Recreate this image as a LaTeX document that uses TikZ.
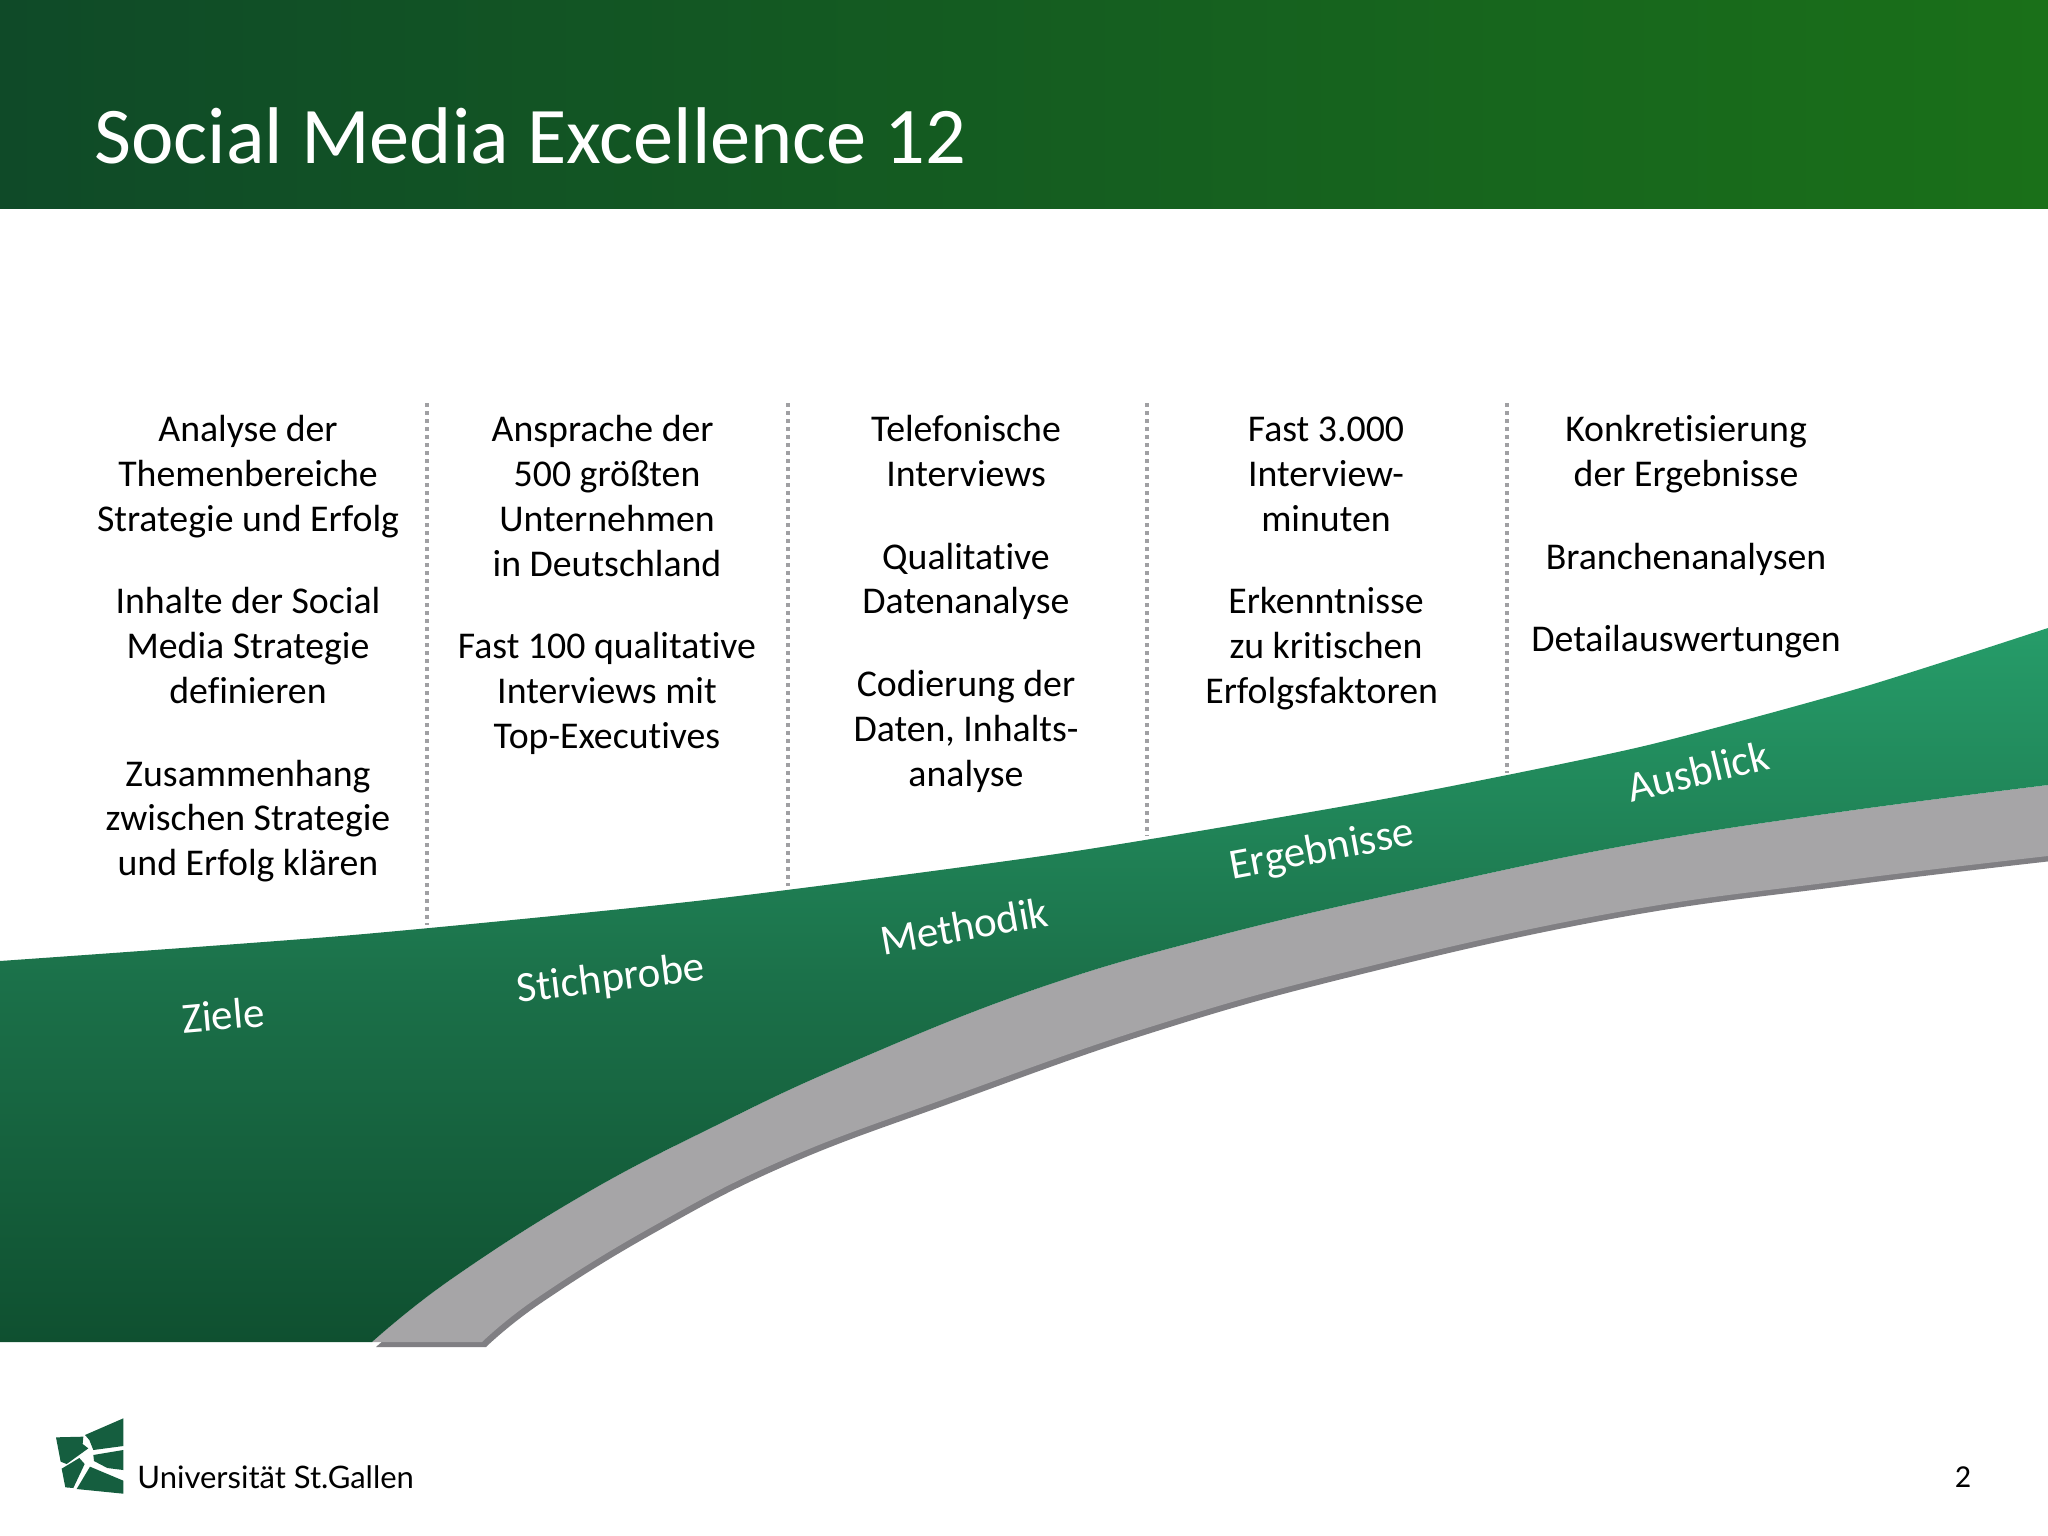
\documentclass[tikz,border=0pt]{standalone}
\usepackage{fontspec}
\setmainfont{Carlito}[Ligatures=CommonOff]
\newfontfamily\logofont{Lato}
\definecolor{hdark}{HTML}{0F4A28}
\definecolor{hlight}{HTML}{1A7019}
\definecolor{gtop}{HTML}{269C69}
\definecolor{gmid}{HTML}{1B7049}
\definecolor{gbot}{HTML}{0F5030}
\definecolor{greyband}{HTML}{A6A5A7}
\definecolor{greyedge}{HTML}{807F83}
\definecolor{sepgrey}{HTML}{A0A0A3}
\definecolor{logogreen}{HTML}{155E3F}
\tikzset{
  body/.style={font=\fontsize{18.9}{22.4}\selectfont,align=center,anchor=north,inner sep=0pt,text=black},
  band/.style={font=\fontsize{21.5}{25}\selectfont,text=white,inner sep=0pt},
  sep/.style={draw=sepgrey,line width=2pt,dash pattern=on 2pt off 2pt},
  logopart/.style={fill=logogreen},
}
\def\ts{\hspace*{0.23em}}
\def\greytop{(372,1342) (450,1280) (583,1195) (717,1125) (850,1063) (1033,990) (1217,936) (1440,884) (1640,843) (1840,812) (2048,785)}
\def\greybot{(2048,856) (1840,881) (1607,914) (1350,971) (1150,1027) (950,1097) (783,1160) (650,1228) (537,1298) (482,1342)}
\def\greentop{(0,961) (353,935) (705,900) (1063,853) (1384,799) (1640,747) (1860,688) (2048,628)}
\def\greenlow{(2048,785) (1840,812) (1640,843) (1440,884) (1217,936) (1033,990) (850,1063) (717,1125) (583,1195) (450,1280) (372,1342)}
\begin{document}
\begin{tikzpicture}[x=0.5pt,y=-0.5pt]
\useasboundingbox (0,0) rectangle (2048,1535);
\fill[white] (0,0) rectangle (2048,1535);
\shade[left color=hdark,right color=hlight] (0,0) rectangle (2048,209);
\node[anchor=base west,inner sep=0pt,text=white,font=\fontsize{40.2}{48}\selectfont] (title) at (94,164) {Social Media Excellence 12};
% dark edge of the band
\begin{scope}[shift={(4,5)}]
\fill[greyedge] plot[smooth,tension=0.7] coordinates {\greytop} -- plot[smooth,tension=0.7] coordinates {\greybot} -- cycle;
\end{scope}
% grey band
\fill[greyband] plot[smooth,tension=0.7] coordinates {\greytop} -- plot[smooth,tension=0.7] coordinates {\greybot} -- cycle;
% green body
\shade[top color=gtop,bottom color=gbot,middle color=gmid] plot[smooth,tension=0.4] coordinates {\greentop} -- plot[smooth,tension=0.7] coordinates {\greenlow} -- (0,1342) -- cycle;
% separators
\coordinate (s1t) at (427,403); \coordinate (s1b) at (427,925);
\coordinate (s2t) at (787.5,403); \coordinate (s2b) at (787.5,886);
\coordinate (s3t) at (1147,403); \coordinate (s3b) at (1147,836);
\coordinate (s4t) at (1507,403); \coordinate (s4b) at (1507,773);
\draw[sep] (s1t) -- (s1b);
\draw[sep] (s2t) -- (s2b);
\draw[sep] (s3t) -- (s3b);
\draw[sep] (s4t) -- (s4b);
% columns
\node[body] (c1) at (248,415) {Analyse der\\Themenbereiche\\Strategie und Erfolg\\[18.9pt]Inhalte der Social\\Media Strategie\\definieren\\[18.9pt]Zusammenhang\\zwischen Strategie\\und Erfolg klären};
\node[body] (c2) at (607,415) {Ansprache der\ts\\500 größten\\Unternehmen\ts\\in Deutschland\\[18.9pt]Fast 100 qualitative\\Interviews mit\ts\\Top-Executives};
\node[body] (c3) at (966,415) {Telefonische\\Interviews\\[18.9pt]Qualitative\\Datenanalyse\\[18.9pt]Codierung der\\Daten, Inhalts-\\analyse};
\node[body] (c4) at (1326,416.5) {Fast 3.000\\Interview-\\minuten\\[18.9pt]Erkenntnisse\\zu kritischen\\Erfolgsfaktoren\ts};
\node[body] (c5) at (1686,415) {Konkretisierung\\der Ergebnisse\\[18.9pt]Branchenanalysen\\[18.9pt]Detailauswertungen};
% band labels
\node[band,rotate=5] (l1) at (223,1015) {Ziele};
\node[band,rotate=7] (l2) at (611,980) {Stichprobe};
\node[band,rotate=10] (l3) at (964,926) {Methodik};
\node[band,rotate=10.5] (l4) at (1322,851) {Ergebnisse};
\node[band,rotate=13.5] (l5) at (1698,771) {Ausblick};
% logo
\begin{scope}[shift={(30,1390)},x=0.16667pt,y=-0.16667pt]
\fill[logopart] (165,135) -- (280,85) -- (280,168) -- (190,180) -- (178,150) -- cycle;
\fill[logopart] (78,142) -- (160,140) -- (158,162) -- (175,175) -- (110,222) -- (92,215) -- cycle;
\fill[logopart] (190,195) -- (280,180) -- (280,240) -- (232,234) -- (192,213) -- cycle;
\fill[logopart] (95,236) -- (148,204) -- (164,222) -- (130,294) -- (106,292) -- cycle;
\fill[logopart] (180,230) -- (280,272) -- (280,311) -- (140,297) -- cycle;
\end{scope}
\node[anchor=base west,inner sep=0pt,text=black,font=\logofont\fontsize{15.5}{20}\selectfont] (logotext) at (137,1488) {Universität St.Gallen};
\node[inner sep=0pt,font=\fontsize{16}{18}\selectfont] (page) at (1963,1477) {2};
\end{tikzpicture}
\end{document}
